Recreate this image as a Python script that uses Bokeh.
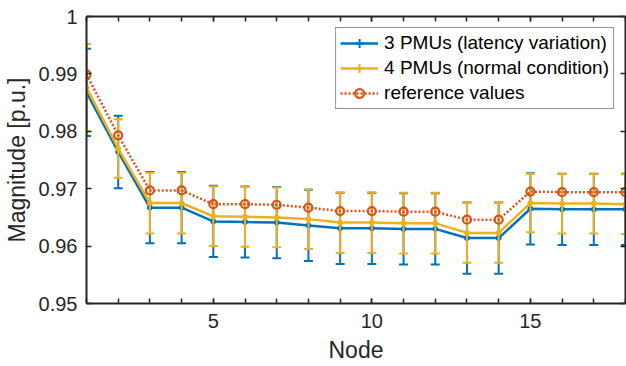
from bokeh.plotting import figure
from bokeh.models import FixedTicker, LinearAxis, Range1d, Legend, LegendItem
from bokeh.embed import file_html
from bokeh.resources import INLINE

# Bus voltage magnitude per node
nodes = [1, 2, 3, 4, 5, 6, 7, 8, 9, 10, 11, 12, 13, 14, 15, 16, 17, 18]

three_pmu = [0.9868, 0.9764, 0.9667, 0.9667, 0.9643, 0.9642, 0.9641, 0.9636, 0.9631,
             0.9631, 0.9630, 0.9630, 0.9614, 0.9614, 0.9665, 0.9664, 0.9664, 0.9664]
three_err = [0.0076, 0.0063, 0.0062, 0.0062, 0.0062, 0.0062, 0.0062, 0.0062, 0.0062,
             0.0062, 0.0062, 0.0062, 0.0062, 0.0062, 0.0062, 0.0062, 0.0062, 0.0062]

four_pmu = [0.9876, 0.9770, 0.9675, 0.9675, 0.9652, 0.9651, 0.9650, 0.9647, 0.9641,
            0.9641, 0.9640, 0.9640, 0.9623, 0.9623, 0.9675, 0.9674, 0.9674, 0.9673]
four_err = [0.0076, 0.0051, 0.0053, 0.0053, 0.0052, 0.0052, 0.0052, 0.0052, 0.0053,
            0.0053, 0.0053, 0.0053, 0.0052, 0.0052, 0.0051, 0.0052, 0.0052, 0.0052]

reference = [0.9899, 0.9793, 0.9697, 0.9697, 0.9673, 0.9673, 0.9672, 0.9667, 0.9661,
             0.9661, 0.9660, 0.9660, 0.9646, 0.9646, 0.9695, 0.9694, 0.9694, 0.9694]

x_ticks = [5, 10, 15]
y_ticks = [0.95, 0.96, 0.97, 0.98, 0.99, 1.0]
y_tick_labels = {0.95: "0.95", 0.96: "0.96", 0.97: "0.97", 0.98: "0.98", 0.99: "0.99", 1: "1"}

BLUE = "#0072BD"
YELLOW = "#EDB120"
RED = "#D95319"
AX = "#262626"
FONT = "Liberation Sans"

p = figure(width=626, height=366, output_backend="svg", toolbar_location=None,
           x_range=Range1d(1, 18), y_range=Range1d(0.95, 1.0),
           min_border_left=86, min_border_right=1, min_border_top=16,
           min_border_bottom=63, x_axis_location=None, y_axis_location=None)
p.xgrid.visible = False
p.ygrid.visible = False
p.outline_line_color = None
p.background_fill_color = "white"
p.border_fill_color = "white"


def errorbar_series(values, errors, color):
    lower = [v - e for v, e in zip(values, errors)]
    upper = [v + e for v, e in zip(values, errors)]
    p.segment(x0=nodes, y0=lower, x1=nodes, y1=upper, line_color=color, line_width=2)
    p.scatter(x=nodes, y=lower, marker="dash", size=9, line_color=color, line_width=2)
    p.scatter(x=nodes, y=upper, marker="dash", size=9, line_color=color, line_width=2)
    line = p.line(x=nodes, y=values, line_color=color, line_width=2.5)
    p.scatter(x=nodes, y=values, marker="circle", size=5, line_color=color, fill_color=color)
    # legend key only: a vertical bar across the line, hidden in the plot area
    key = p.scatter(x=nodes, y=values, marker="cross", size=16, line_color=color,
                    line_width=2, visible=False)
    return line, key


blue_line, blue_key = errorbar_series(three_pmu, three_err, BLUE)
yellow_line, yellow_key = errorbar_series(four_pmu, four_err, YELLOW)

ref_line = p.line(x=nodes, y=reference, line_color=RED, line_width=2.5, line_dash="2 2")
ref_marks = p.scatter(x=nodes, y=reference, marker="circle", size=8, line_color=RED,
                      line_width=2.2, fill_color=None)


def style_axis(axis, labels=True):
    axis.axis_line_color = AX
    axis.axis_line_width = 2
    axis.major_tick_line_color = AX
    axis.major_tick_line_width = 1.5
    axis.minor_tick_line_color = AX
    axis.minor_tick_line_width = 1.5
    axis.major_tick_in = 5
    axis.major_tick_out = 0
    axis.minor_tick_in = 5
    axis.minor_tick_out = 0
    axis.major_label_text_font = FONT
    axis.major_label_text_color = AX
    axis.axis_label_text_font = FONT
    axis.axis_label_text_color = AX
    axis.axis_label_text_font_style = "normal"
    axis.axis_label_text_font_size = "23px"
    if labels:
        axis.major_label_text_font_size = "20px"
    else:
        axis.major_label_text_font_size = "0px"
        axis.major_label_text_color = None
        axis.major_label_standoff = 0


x_ticker = FixedTicker(ticks=x_ticks, minor_ticks=nodes)
y_ticker = FixedTicker(ticks=y_ticks, minor_ticks=[])

bottom = LinearAxis(ticker=x_ticker, axis_label="Node")
style_axis(bottom)
bottom.major_label_standoff = 10
bottom.axis_label_standoff = 6
p.add_layout(bottom, "below")

left = LinearAxis(ticker=y_ticker, axis_label="Magnitude [p.u.]",
                  major_label_overrides=y_tick_labels)
style_axis(left)
left.major_label_standoff = 9
left.axis_label_standoff = 6
p.add_layout(left, "left")

top = LinearAxis(ticker=x_ticker)
style_axis(top, labels=False)
p.add_layout(top, "above")

right = LinearAxis(ticker=y_ticker)
style_axis(right, labels=False)
p.add_layout(right, "right")

legend = Legend(items=[
    LegendItem(label="3 PMUs (latency variation)", renderers=[blue_line, blue_key]),
    LegendItem(label="4 PMUs (normal condition)", renderers=[yellow_line, yellow_key]),
    LegendItem(label="reference values", renderers=[ref_line, ref_marks]),
], location="top_right")
legend.margin = 11
legend.padding = 4
legend.spacing = 3
legend.label_height = 22
legend.glyph_height = 22
legend.glyph_width = 38
legend.label_standoff = 6
legend.label_text_font = FONT
legend.label_text_font_size = "19px"
legend.label_text_color = "#000000"
legend.border_line_color = AX
legend.border_line_width = 1.5
legend.background_fill_color = "white"
legend.background_fill_alpha = 1.0
legend.inactive_fill_alpha = 0.0
p.add_layout(legend)

open("out.html", "w").write(file_html(p, INLINE))
